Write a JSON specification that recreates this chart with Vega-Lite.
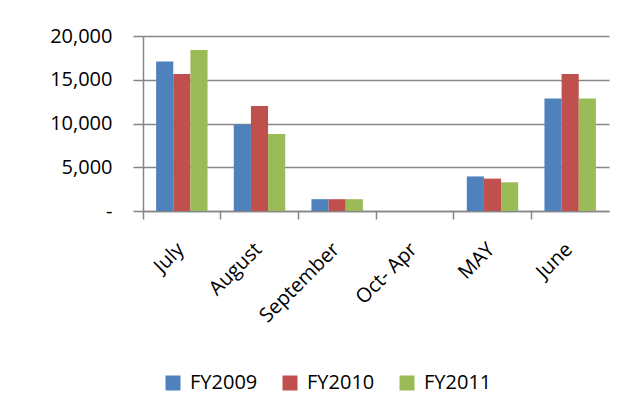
{
  "$schema": "https://vega.github.io/schema/vega-lite/v6.json",
  "width": 466,
  "height": 175,
  "autosize": {"type": "none"},
  "padding": {"left": 143, "top": 36, "right": 17, "bottom": 203},
  "background": "white",
  "data": {"values": [
    {"month": "July", "series": "FY2009", "value": 17100},
    {"month": "July", "series": "FY2010", "value": 15650},
    {"month": "July", "series": "FY2011", "value": 18400},
    {"month": "August", "series": "FY2009", "value": 9900},
    {"month": "August", "series": "FY2010", "value": 12000},
    {"month": "August", "series": "FY2011", "value": 8800},
    {"month": "September", "series": "FY2009", "value": 1350},
    {"month": "September", "series": "FY2010", "value": 1350},
    {"month": "September", "series": "FY2011", "value": 1350},
    {"month": "Oct- Apr", "series": "FY2009", "value": 0},
    {"month": "Oct- Apr", "series": "FY2010", "value": 0},
    {"month": "Oct- Apr", "series": "FY2011", "value": 0},
    {"month": "MAY", "series": "FY2009", "value": 3950},
    {"month": "MAY", "series": "FY2010", "value": 3700},
    {"month": "MAY", "series": "FY2011", "value": 3280},
    {"month": "June", "series": "FY2009", "value": 12850},
    {"month": "June", "series": "FY2010", "value": 15650},
    {"month": "June", "series": "FY2011", "value": 12850}
  ]},
  "layer": [
    {
      "mark": {"type": "bar"},
      "encoding": {
        "x": {
          "field": "month", "type": "nominal",
          "sort": ["July", "August", "September", "Oct- Apr", "MAY", "June"],
          "scale": {"paddingInner": 0, "paddingOuter": 0},
          "axis": {
            "orient": "bottom", "title": null, "labels": false, "bandPosition": 0,
            "domainColor": "#868686", "domainWidth": 1.5,
            "tickColor": "#868686", "tickWidth": 1.5, "tickSize": 8, "grid": false
          }
        },
        "xOffset": {"field": "series", "scale": {"paddingInner": 0, "paddingOuter": 0.765}},
        "y": {
          "field": "value", "type": "quantitative",
          "scale": {"domain": [0, 20000], "nice": false},
          "axis": {
            "title": null, "values": [0, 5000, 10000, 15000, 20000],
            "labelExpr": "datum.value == 0 ? '-\u00a0\u00a0' : format(datum.value, ',')",
            "labelFont": "Open Sans", "labelFontSize": 20, "labelColor": "#000000",
            "labelPadding": 21,
            "domainColor": "#868686", "domainWidth": 1.5,
            "tickColor": "#868686", "tickWidth": 1.5, "tickSize": 10,
            "grid": true, "gridColor": "#868686", "gridWidth": 1.5
          }
        },
        "color": {
          "field": "series", "type": "nominal",
          "scale": {"domain": ["FY2009", "FY2010", "FY2011"], "range": ["#4F81BD", "#C0504D", "#9BBB59"]},
          "legend": {
            "title": null, "orient": "none", "direction": "horizontal",
            "legendX": 20, "legendY": 337,
            "symbolType": "square", "symbolSize": 225, "symbolStrokeWidth": 0, "symbolOpacity": 1,
            "labelFont": "Open Sans", "labelFontSize": 20, "labelColor": "#000000",
            "labelOffset": 7, "columnPadding": 22
          }
        }
      }
    },
    {
      "mark": {"type": "point", "opacity": 0},
      "encoding": {
        "x": {
          "field": "month", "type": "nominal",
          "sort": ["July", "August", "September", "Oct- Apr", "MAY", "June"],
          "axis": {
            "orient": "bottom", "title": null, "domain": false, "ticks": false, "grid": false,
            "labelAngle": -45, "labelAlign": "right", "labelBaseline": "middle",
            "labelFont": "Open Sans", "labelFontSize": 20, "labelColor": "#000000",
            "labelPadding": 35, "labelOffset": -1
          }
        },
        "y": {"field": "value", "type": "quantitative"}
      }
    }
  ],
  "resolve": {"axis": {"x": "independent"}},
  "config": {"view": {"stroke": null}}
}
